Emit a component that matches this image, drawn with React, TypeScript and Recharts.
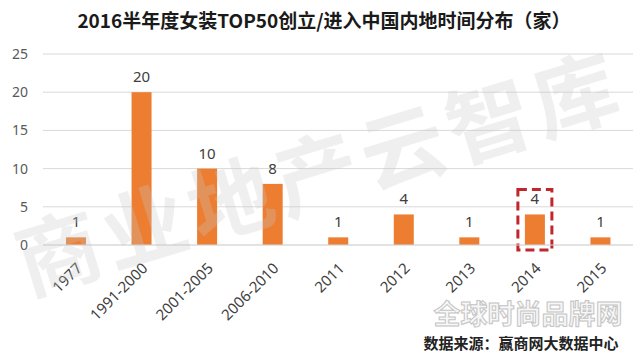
import React from "react";
import { BarChart, Bar, XAxis, YAxis, CartesianGrid, LabelList } from "recharts";

// values
const periods = ["1977", "1991-2000", "2001-2005", "2006-2010", "2011", "2012", "2013", "2014", "2015"];
const brandCounts = [1, 20, 10, 8, 1, 4, 1, 4, 1];
const yTicks = [0, 5, 10, 15, 20, 25];
const highlightPeriod = "2014";

const data = periods.map((p, i) => ({ period: p, count: brandCounts[i] }));

const sansFont = '"Noto Sans", "Noto Sans CJK SC", sans-serif';
const cjkFont = '"Noto Sans CJK SC", sans-serif';

// bar plus the red dashed frame around the highlighted period
const BarWithMark = (props: any) => {
  const { x, y, width, height, fill, payload } = props;
  return (
    <g>
      <rect x={x} y={y} width={width} height={height} fill={fill} />
      {payload && payload.period === highlightPeriod && (
        <rect
          x={x - 7}
          y={y - 25}
          width={width + 14}
          height={height + 30}
          fill="none"
          stroke="#C0272D"
          strokeWidth={3}
          strokeDasharray="9 5"
        />
      )}
    </g>
  );
};

const PeriodTick = (props: any) => {
  const { x, y, payload } = props;
  return (
    <text
      x={x + 3}
      y={y + 18}
      transform={`rotate(-45, ${x + 3}, ${y + 18})`}
      textAnchor="end"
      dominantBaseline="central"
      fontSize={15}
      fill="#404040"
      fontFamily={sansFont}
    >
      {payload.value}
    </text>
  );
};

const App = () => {
  return (
    <div style={{ position: "absolute", left: 0, top: 0, width: 640, height: 364, background: "#fff" }}>
      <BarChart width={640} height={364} data={data} margin={{ top: 54, right: 7, left: 0, bottom: 89 }}>
        <CartesianGrid vertical={false} stroke="#d9d9d9" />
        <XAxis
          dataKey="period"
          interval={0}
          height={30}
          tickLine={false}
          tickSize={0}
          stroke="#d9d9d9"
          tick={<PeriodTick />}
        />
        <YAxis
          domain={[0, 25]}
          ticks={yTicks}
          width={43}
          axisLine={false}
          tickLine={false}
          tickSize={0}
          tickMargin={15}
          tick={{ fill: "#595959", fontSize: 14, fontFamily: sansFont }}
        />
        <Bar dataKey="count" fill="#ED7D31" barSize={20} shape={<BarWithMark />} isAnimationActive={false}>
          <LabelList dataKey="count" position="top" offset={10} fill="#404040" fontSize={15} fontFamily={sansFont} />
        </Bar>
      </BarChart>
      <svg width={640} height={364} style={{ position: "absolute", left: 0, top: 0, pointerEvents: "none" }}>
        <text
          x={324}
          y={19}
          textAnchor="middle"
          dominantBaseline="central"
          fontSize={19}
          fontWeight="bold"
          fill="#1a1a1a"
          fontFamily={cjkFont}
        >
          2016半年度女装TOP50创立/进入中国内地时间分布（家）
        </text>
        <text
          x={318}
          y={168}
          textAnchor="middle"
          dominantBaseline="central"
          fontSize={84}
          fontWeight="bold"
          fill="#c8c8c8"
          opacity={0.28}
          fontFamily={cjkFont}
          transform="rotate(-17, 318, 168)"
          letterSpacing={6}
        >
          商业地产云智库
        </text>
        <text
          x={528}
          y={312}
          textAnchor="middle"
          dominantBaseline="central"
          fontSize={27}
          fontWeight="bold"
          fill="#f7f7f7"
          stroke="#c4c4c4"
          strokeWidth={1}
          fontFamily={cjkFont}
        >
          全球时尚品牌网
        </text>
        <text
          x={521}
          y={342}
          textAnchor="middle"
          dominantBaseline="central"
          fontSize={15}
          fontWeight="bold"
          fill="#222"
          fontFamily={cjkFont}
        >
          数据来源：赢商网大数据中心
        </text>
      </svg>
    </div>
  );
};

export default App;
